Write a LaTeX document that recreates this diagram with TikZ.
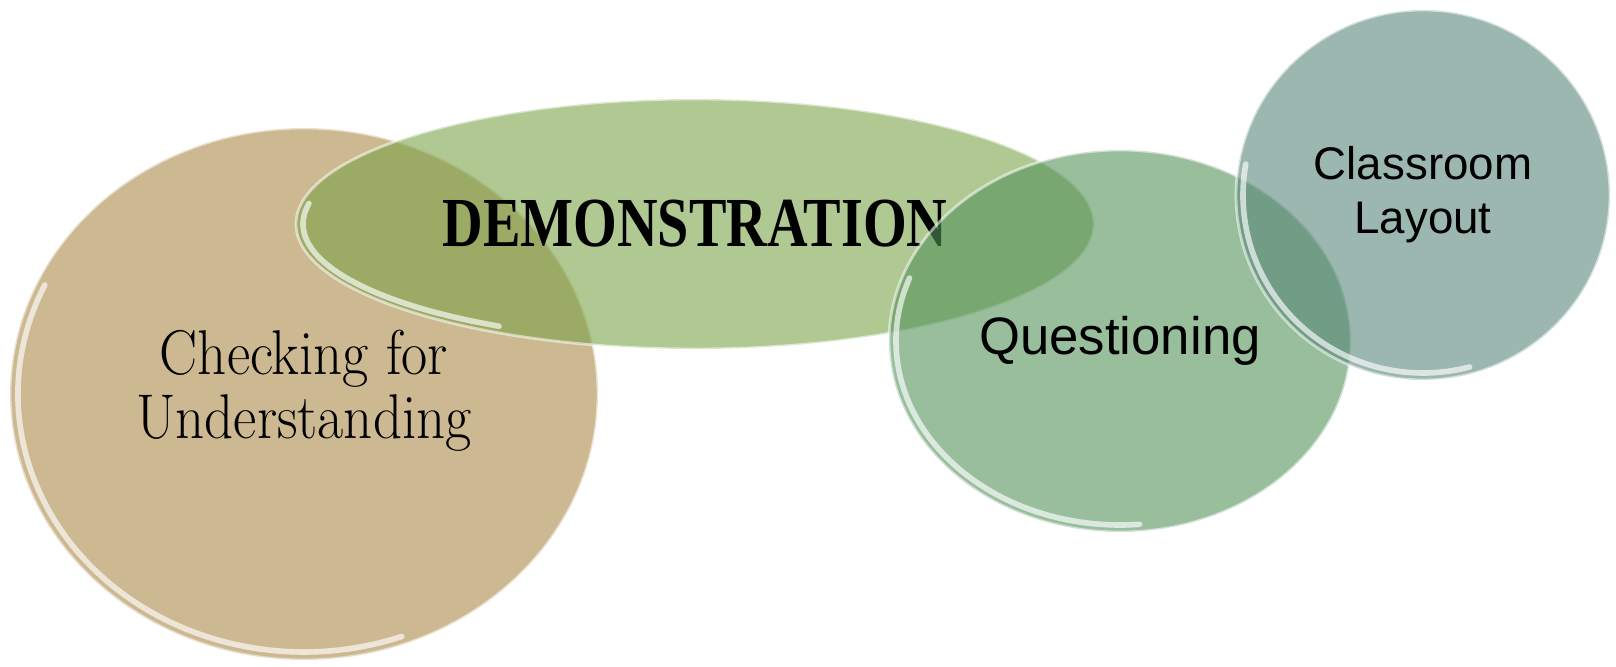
\documentclass[tikz,border=0pt]{standalone}
\usepackage{fontspec}
\usepackage{graphicx}
\usepackage{tikz}
\usetikzlibrary{shapes.geometric}
\usepackage{xcolor}
\newfontfamily\arialike{Liberation Sans}
\newfontfamily\stencilike{Liberation Serif}
\definecolor{checkfill}{HTML}{CDB991}
\definecolor{demofill}{HTML}{7BA349}
\definecolor{questfill}{HTML}{53935A}
\definecolor{roomfill}{HTML}{58877A}

\begin{document}
\begin{tikzpicture}[
  blob/.style={ellipse, inner sep=0pt, outer sep=0pt, draw=white, draw opacity=0.55,
               line width=0.8pt, fill opacity=0.6, text opacity=1, align=center},
  rim/.style={white, line width=1.6pt, opacity=0.65, line cap=round}]
  \useasboundingbox (0,0) rectangle (16.16,6.66);

  % back circle
  \node[blob, fill=checkfill, fill opacity=1, minimum width=5.88cm, minimum height=5.32cm]
    (check) at (3.04,2.72)
    {\scalebox{0.9}[1]{\fontsize{18}{18.2}\selectfont
     \begin{tabular}{@{}c@{}}Checking for\\Understanding\end{tabular}}};
  \draw[rim] (check.center) ++(155:2.86 and 2.58)
    arc[start angle=155, end angle=290, x radius=2.86, y radius=2.58];

  % long ellipse across the top
  \node[blob, fill=demofill, minimum width=7.98cm, minimum height=2.50cm]
    (demo) at (6.95,4.42)
    {\scalebox{0.8}[1]{\stencilike\bfseries\fontsize{20}{20}\selectfont DEMONSTRATION}};
  \draw[rim] (demo.center) ++(170:3.92 and 1.18)
    arc[start angle=170, end angle=240, x radius=3.92, y radius=1.18];

  \node[blob, fill=questfill, minimum width=4.62cm, minimum height=3.82cm,
        font=\arialike\fontsize{15}{15}\selectfont]
    (quest) at (11.20,3.25) {Questioning};
  \draw[rim] (quest.center) ++(160:2.24 and 1.84)
    arc[start angle=160, end angle=275, x radius=2.24, y radius=1.84];

  \node[blob, fill=roomfill, minimum width=3.74cm, minimum height=3.70cm,
        font=\arialike\fontsize{13}{15.3}\selectfont]
    (room) at (14.23,4.71) {Classroom\\Layout};
  \draw[rim] (room.center) ++(170:1.80 and 1.78)
    arc[start angle=170, end angle=285, x radius=1.80, y radius=1.78];
\end{tikzpicture}
\end{document}
